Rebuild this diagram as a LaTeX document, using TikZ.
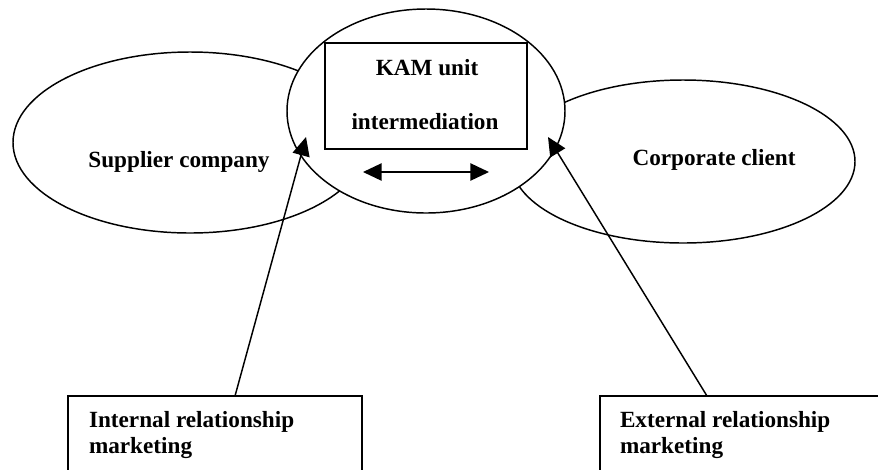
\documentclass[tikz,border=0pt]{standalone}
\usepackage{fontspec}
\setmainfont{Liberation Serif}
\usetikzlibrary{shapes.geometric,arrows.meta}
\begin{document}
\begin{tikzpicture}[x=0.75pt,y=-0.75pt,
  line width=1.1pt,
  every node/.style={inner sep=0pt,outer sep=0pt},
  lbl/.style={font=\fontsize{17.4}{19.5}\selectfont\bfseries},
  oval/.style={draw,ellipse,fill=white},
  framebox/.style={draw,rectangle,fill=white},
  link/.style={-{Triangle[length=14pt,width=13pt]}},
  twoway/.style={{Triangle[length=14pt,width=13pt]}-{Triangle[length=14pt,width=13pt]}}]
  \useasboundingbox (0,0) rectangle (878,469);
  \clip (0,0) rectangle (878,469);

  % side parties
  \node[oval,minimum width=265.5pt,minimum height=135.75pt] (supplier) at (190,142.5) {};
  \node[oval,minimum width=258pt,minimum height=122.25pt] (client) at (683,161.5) {};
  \node[lbl] (supplierlbl) at (179,162) {Supplier company};
  \node[lbl] (clientlbl) at (714,160) {Corporate client};

  % intermediary unit in the middle
  \node[oval,minimum width=208.5pt,minimum height=153pt] (kam) at (426,111) {};
  \node[framebox,minimum width=151.5pt,minimum height=79.5pt] (kambox) at (426,96) {};
  \node[lbl] (kamtop) at (427,68) {KAM unit};
  \node[lbl] (kambottom) at (425,122) {intermediation};

  \coordinate (exL) at (363,172);
  \coordinate (exR) at (489,172);
  \draw[twoway] (exL) -- (exR);

  % marketing boxes at the bottom
  \node[framebox,anchor=north west,minimum width=220.5pt,minimum height=80pt] (intbox) at (68,396) {};
  \node[lbl,anchor=west,align=left] (intlbl) at (89,435) {Internal relationship\\marketing};
  \node[framebox,anchor=north west,minimum width=240pt,minimum height=80pt] (extbox) at (600,396) {};
  \node[lbl,anchor=west,align=left] (extlbl) at (620,435) {External relationship\\marketing};

  % links from the boxes to the unit
  \coordinate (intfoot) at (235,396);
  \coordinate (inttip) at (306,137);
  \coordinate (extfoot) at (707,396);
  \coordinate (exttip) at (548,137);
  \draw[link] (intfoot) -- (inttip);
  \draw[link] (extfoot) -- (exttip);
\end{tikzpicture}
\end{document}
